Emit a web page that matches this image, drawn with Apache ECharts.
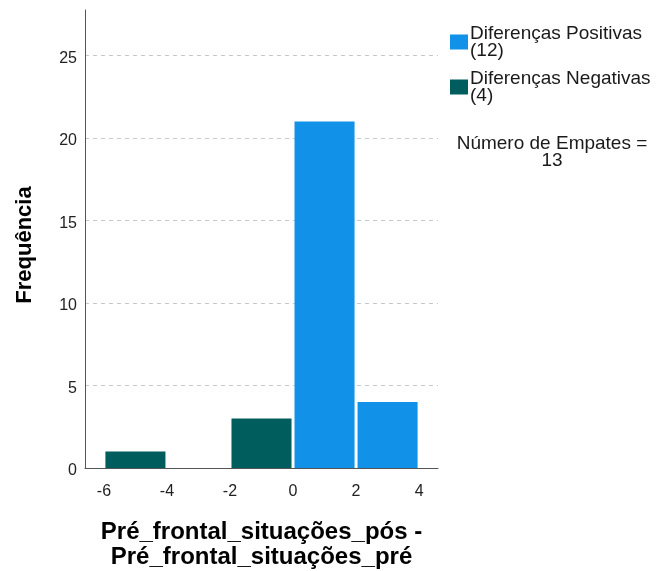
<!DOCTYPE html>
<html>
<head>
<meta charset="utf-8">
<script src="https://cdn.jsdelivr.net/npm/echarts@6/dist/echarts.min.js"></script>
<style>
  html, body { margin: 0; padding: 0; background: #fff; }
  #chart { width: 659px; height: 571px; }
</style>
</head>
<body>
<div id="chart"></div>
<script>
// Histogram of the paired differences (pós - pré), bins of width 2
const binWidth = 2;
const positiveBinStarts = [0, 2];
const positiveCounts = [21, 4];
const negativeBinStarts = [-6, -2];
const negativeCounts = [1, 3];

const xTickLabels = [-6, -4, -2, 0, 2, 4];
const yTickLabels = [0, 5, 10, 15, 20, 25];

const seriesNames = ['Diferenças Positivas', 'Diferenças Negativas'];
const seriesTotals = [12, 4];
const tiesLabel = 'Número de Empates =';
const tiesCount = 13;

const colorPositive = '#1192e8';
const colorNegative = '#005d5d';

function toBins(starts, counts) {
  return starts.map((s, i) => [s, s + binWidth, counts[i]]);
}

function renderBin(params, api) {
  const lo = api.coord([api.value(0), api.value(2)]);
  const hi = api.coord([api.value(1), 0]);
  const inset = 1.5;
  return {
    type: 'rect',
    shape: {
      x: lo[0] + inset,
      y: lo[1],
      width: hi[0] - lo[0] - inset * 2,
      height: hi[1] - lo[1]
    },
    style: { fill: api.visual('color') }
  };
}

const chart = echarts.init(document.getElementById('chart'), null, { renderer: 'canvas' });

chart.setOption({
  animation: false,
  backgroundColor: '#ffffff',
  textStyle: { fontFamily: 'Arial, "Liberation Sans", sans-serif' },
  grid: {
    left: 85, right: 221, top: 10, bottom: 103,
    containLabel: false,
    outerBoundsMode: 'none'
  },
  legend: {
    orient: 'vertical',
    left: 445,
    top: 19,
    itemWidth: 18,
    itemHeight: 15,
    itemGap: 9,
    icon: 'rect',
    data: seriesNames,
    formatter: function (name) {
      return name + '\n(' + seriesTotals[seriesNames.indexOf(name)] + ')';
    },
    textStyle: { fontSize: 19, lineHeight: 17, color: '#1a1a1a', padding: [0, 0, 0, -3] }
  },
  xAxis: {
    type: 'value',
    min: -6.6,
    max: 4.6,
    name: 'Pré_frontal_situações_pós -\nPré_frontal_situações_pré',
    nameLocation: 'middle',
    nameGap: 52,
    nameTextStyle: { fontSize: 24, fontWeight: 'bold', color: '#000', lineHeight: 25 },
    axisLine: { show: true, onZero: false, lineStyle: { color: '#555', width: 1 } },
    axisTick: { show: false },
    splitLine: { show: false },
    axisLabel: {
      customValues: xTickLabels,
      fontSize: 16,
      color: '#222',
      margin: 16
    }
  },
  yAxis: {
    type: 'value',
    min: 0,
    max: 27.75,
    interval: 5,
    name: 'Frequência',
    nameLocation: 'middle',
    nameGap: 49,
    nameTextStyle: { fontSize: 22, fontWeight: 'bold', color: '#000', padding: [0, 12, 0, 0] },
    axisLine: { show: true, onZero: false, lineStyle: { color: '#555', width: 1 } },
    axisTick: { show: false },
    axisLabel: {
      customValues: yTickLabels,
      fontSize: 16,
      color: '#222',
      margin: 8,
      verticalAlign: 'top',
      padding: [-5, 0, 0, 0]
    },
    splitLine: {
      show: true,
      lineStyle: {
        color: ['rgba(0,0,0,0)', '#c8c8c8', '#c8c8c8', '#c8c8c8', '#c8c8c8', '#c8c8c8'],
        type: [4, 4],
        width: 1
      }
    }
  },
  series: [
    {
      name: seriesNames[0],
      type: 'custom',
      renderItem: renderBin,
      itemStyle: { color: colorPositive },
      encode: { x: [0, 1], y: 2 },
      data: toBins(positiveBinStarts, positiveCounts),
      z: 3
    },
    {
      name: seriesNames[1],
      type: 'custom',
      renderItem: renderBin,
      itemStyle: { color: colorNegative },
      encode: { x: [0, 1], y: 2 },
      data: toBins(negativeBinStarts, negativeCounts),
      z: 3
    }
  ],
  graphic: [
    {
      type: 'text',
      x: 552,
      y: 135,
      style: {
        text: tiesLabel + '\n' + tiesCount,
        fontSize: 19,
        lineHeight: 17,
        fill: '#1a1a1a',
        align: 'center',
        verticalAlign: 'top',
        fontFamily: 'Arial, "Liberation Sans", sans-serif'
      }
    }
  ]
});
</script>
</body>
</html>
